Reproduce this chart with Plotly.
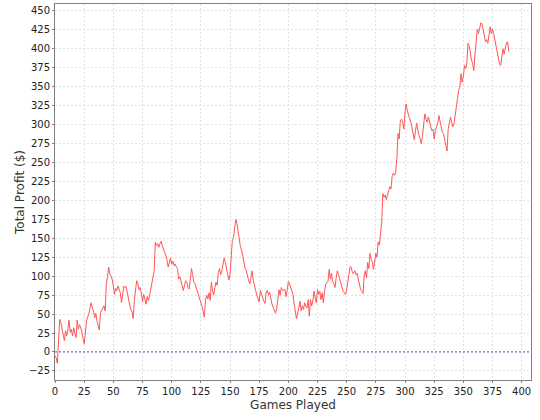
import plotly.graph_objects as go

profit = [
    -5, -8, -15, 20, 43, 39, 30, 22, 15, 28,
    21, 30, 42, 26, 30, 21, 32, 25, 19, 42,
    30, 36, 33, 26, 20, 11, 24, 41, 46, 50,
    58, 65, 58, 54, 45, 51, 41, 35, 29, 52,
    55, 57, 61, 54, 89, 100, 112, 103, 99, 96,
    87, 76, 84, 81, 87, 83, 78, 65, 76, 87,
    85, 86, 78, 70, 61, 55, 54, 44, 68, 82,
    94, 90, 82, 85, 78, 66, 76, 70, 63, 73,
    68, 74, 83, 94, 100, 107, 145, 140, 143, 138,
    143, 146, 140, 136, 132, 127, 121, 112, 118, 124,
    116, 120, 114, 116, 112, 110, 96, 99, 94, 88,
    81, 88, 94, 92, 85, 83, 101, 110, 102, 92,
    90, 85, 81, 75, 72, 68, 60, 53, 46, 68,
    75, 70, 78, 68, 92, 81, 75, 85, 92, 88,
    105, 110, 102, 107, 115, 124, 118, 110, 105, 95,
    102, 125, 147, 151, 164, 175, 169, 158, 149, 138,
    134, 125, 114, 110, 107, 99, 94, 90, 101, 107,
    94, 85, 81, 75, 70, 66, 81, 75, 70, 67,
    64, 79, 81, 75, 79, 70, 63, 59, 55, 51,
    57, 72, 82, 75, 85, 81, 81, 83, 73, 81,
    93, 90, 84, 80, 76, 63, 52, 44, 50, 58,
    67, 54, 61, 56, 65, 60, 58, 69, 47, 69,
    61, 67, 80, 72, 65, 82, 76, 80, 69, 78,
    65, 80, 89, 91, 93, 109, 96, 104, 93, 90,
    85, 98, 107, 102, 96, 90, 87, 80, 78, 76,
    82, 91, 100, 113, 111, 104, 104, 107, 102, 104,
    96, 89, 82, 80, 77, 100, 107, 98, 118, 110,
    130, 122, 119, 109, 118, 130, 125, 145, 141, 156,
    170, 209, 204, 207, 201, 207, 213, 218, 215, 232,
    236, 233, 237, 255, 288, 281, 305, 307, 303, 294,
    316, 327, 318, 314, 308, 303, 294, 288, 280, 292,
    302, 292, 287, 283, 275, 286, 305, 314, 307, 303,
    310, 303, 296, 292, 294, 281, 292, 296, 301, 312,
    303, 296, 290, 288, 279, 275, 265, 294, 300, 310,
    303, 297, 301, 312, 325, 334, 345, 350, 367, 356,
    363, 378, 374, 380, 407, 404, 393, 385, 380, 371,
    393, 411, 426, 420, 429, 434, 433, 424, 415, 409,
    412, 407, 418, 429, 420, 426, 420, 411, 402, 393,
    385, 380, 378, 387, 400, 393, 402, 408, 409, 396,
]
games = list(range(len(profit)))

x_ticks = list(range(0, 401, 25))
y_ticks = list(range(-25, 451, 25))

fig = go.Figure()
fig.add_trace(go.Scatter(
    x=games, y=profit, mode="lines",
    line=dict(color="#ff5555", width=1),
    hoverinfo="skip", showlegend=False,
))

fig.add_shape(type="line", xref="paper", yref="y", x0=0, x1=1, y0=0, y1=0,
              line=dict(color="#5a5aa8", width=1, dash="2px,2px"))

axis_common = dict(
    showgrid=True, gridcolor="#e0e0e0", gridwidth=1, griddash="2px,2px",
    showline=True, linecolor="#808080", linewidth=1, mirror=True,
    ticks="outside", ticklen=2, tickcolor="#808080",
    tickfont=dict(family="DejaVu Sans", size=10, color="#222222"),
    zeroline=False, automargin=False,
)

fig.update_layout(
    width=540, height=420,
    margin=dict(l=55, r=9, t=4, b=40),
    paper_bgcolor="white", plot_bgcolor="white",
    xaxis=dict(range=[0, 408], tickvals=x_ticks,
               title=dict(text="Games Played", font=dict(family="DejaVu Sans", size=12, color="#333333"), standoff=4),
               **axis_common),
    yaxis=dict(range=[-37, 459], tickvals=y_ticks,
               title=dict(text="Total Profit ($)", font=dict(family="DejaVu Sans", size=12, color="#333333"), standoff=1),
               **axis_common),
)

fig.write_html(
    "out.html",
    config={"displayModeBar": False, "responsive": False},
    post_script="document.body.style.margin='0';document.body.style.overflow='hidden';",
)
